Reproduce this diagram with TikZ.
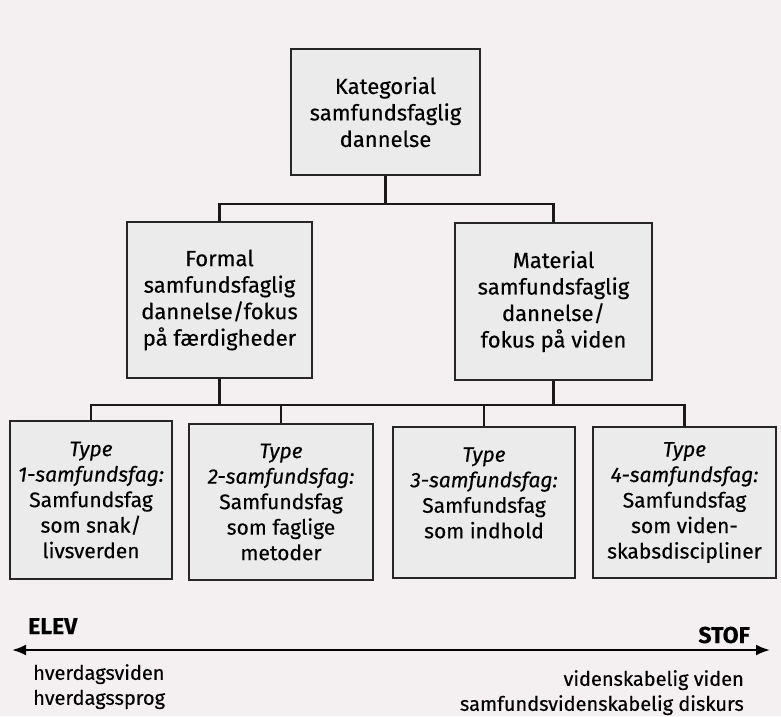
\documentclass[tikz,border=0pt]{standalone}
\usepackage{fontspec}
\setmainfont{Fira Sans}[FakeBold=0.35]
\usetikzlibrary{arrows.meta}

\definecolor{pagebg}{RGB}{244,240,241}
\definecolor{boxfill}{RGB}{236,235,236}

\begin{document}
\begin{tikzpicture}[
  x=1pt, y=-1pt,
  box/.style={draw=black!85, line width=1.4pt, fill=boxfill, align=center, inner sep=0pt},
  bigtext/.style={font=\fontsize{22}{26.5}\selectfont},
  typetext/.style={font=\fontsize{21}{25.5}\selectfont},
  link/.style={line width=2.1pt, draw=black!90},
  axisarrow/.style={{Latex[length=14pt,width=11pt]}-{Latex[length=14pt,width=11pt]}, line width=2.3pt},
  note/.style={font=\fontsize{20}{25}\selectfont, inner sep=0pt},
  pole/.style={font=\bfseries\fontsize{23}{25}\selectfont, inner sep=0pt},
]

% Page: 781 x 716, y grows downwards
\fill[pagebg] (0,0) rectangle (781,716);
\useasboundingbox (0,0) rectangle (781,716);

% Top level
\node[box, bigtext, minimum width=189pt, minimum height=126pt] (kat) at (385.5,112)
  {Kategorial\\samfundsfaglig\\dannelse};

% Second level
\node[box, bigtext, minimum width=185pt, minimum height=156pt] (formal) at (219.5,300)
  {Formal\\samfundsfaglig\\dannelse/fokus\\på færdigheder};
\node[box, bigtext, minimum width=197pt, minimum height=157pt] (material) at (553.5,301.5)
  {Material\\samfundsfaglig\\dannelse/\\fokus på viden};

% Third level
\node[box, typetext, minimum width=162pt, minimum height=158pt] (type1) at (91,500)
  {\textit{Type}\\\textit{1-samfundsfag:}\\Samfundsfag\\som snak/\\livsverden};
\node[box, typetext, minimum width=184pt, minimum height=156pt] (type2) at (281,502)
  {\textit{Type}\\\textit{2-samfundsfag:}\\Samfundsfag\\som faglige\\metoder};
\node[box, typetext, minimum width=182pt, minimum height=151pt] (type3) at (484,502.5)
  {\textit{Type}\\\textit{3-samfundsfag:}\\Samfundsfag\\som indhold\\[-6pt]\mbox{}};
\node[box, typetext, minimum width=183pt, minimum height=151pt] (type4) at (684.5,502.5)
  {\textit{Type}\\\textit{4-samfundsfag:}\\Samfundsfag\\som viden-\\skabsdiscipliner};

% Tree connectors
\path (kat.south) ++(0,28) coordinate (bar1);
\coordinate (bar2) at (380,405);
\draw[link] (kat.south) -- (bar1);
\draw[link] (formal.north) |- (bar1) -| (material.north);
\foreach \n in {formal,material} {
  \draw[link] (\n.south) -- (\n.south |- bar2);
}
\draw[link] (type1.north) |- (bar2) -| (type4.north);
\foreach \n in {type2,type3} {
  \draw[link] (\n.north) -- (\n.north |- bar2);
}

% Axis between pupil and subject matter
\coordinate (elevend) at (12,650);
\coordinate (stofend) at (770,650);
\draw[axisarrow] (elevend) -- (stofend);

\node[pole, anchor=base west] (elev) at (28,634) {ELEV};
\node[pole, anchor=base east] (stof) at (750,643) {STOF};

\node[note, anchor=north west, align=left] (hverdag) at (33,664)
  {hverdagsviden\\hverdagssprog};
\node[note, anchor=north east, align=right] (videns) at (744,670)
  {videnskabelig viden\\samfundsvidenskabelig diskurs};

\end{tikzpicture}
\end{document}
